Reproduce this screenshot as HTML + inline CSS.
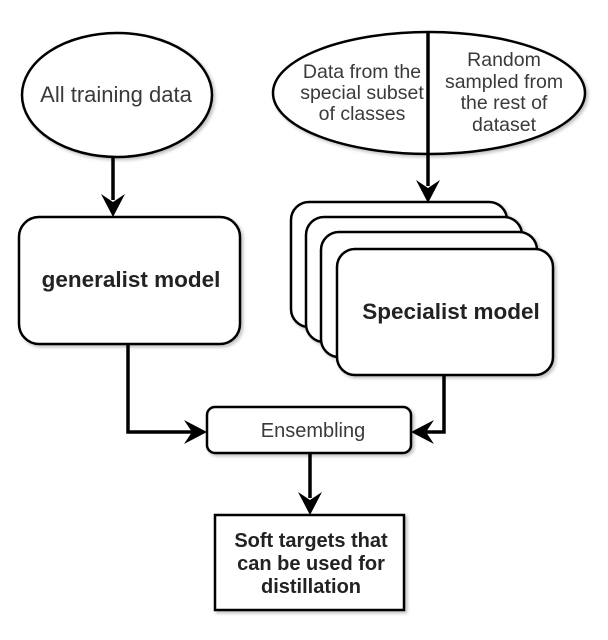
<!DOCTYPE html>
<html><head><meta charset="utf-8"><style>
html,body{margin:0;padding:0;background:#fff;}
svg{display:block;}
text{font-family:"Liberation Sans",Arial,sans-serif;fill:#3a3a3a;text-anchor:middle;}
.b{font-weight:bold;fill:#222;}
</style></head><body>
<svg width="608" height="640" viewBox="0 0 608 640" xmlns="http://www.w3.org/2000/svg">
<defs>
<filter id="sh" x="-10%" y="-10%" width="130%" height="130%"><feDropShadow dx="2" dy="2" stdDeviation="1.5" flood-color="#000" flood-opacity="0.25"/></filter>
</defs>
<g stroke="#000" stroke-width="2.5" fill="#fff" filter="url(#sh)">
<ellipse cx="117" cy="95" rx="95" ry="62"/>
<ellipse cx="429" cy="93" rx="156" ry="61"/>
<rect x="19" y="217" width="221" height="127" rx="20"/>
<rect x="291" y="202" width="216" height="125" rx="18"/>
<rect x="306" y="217" width="216" height="125" rx="18"/>
<rect x="321" y="232" width="216" height="125" rx="18"/>
<rect x="337" y="249" width="216" height="126" rx="18"/>
<rect x="207" y="407" width="204" height="46" rx="8"/>
<rect x="215" y="515" width="189" height="95"/>
</g>
<g stroke="#000" stroke-width="3.5" fill="none">
<line x1="113" y1="157" x2="113" y2="200"/>
<line x1="428" y1="32" x2="428" y2="186"/>
<polyline points="128,344 128,432 192,432"/>
<polyline points="444,375 444,432 426,432"/>
<line x1="310" y1="453" x2="310" y2="498"/>
</g>
<g fill="#000">
<polygon points="101,194 113,202 125,194 113,217"/>
<polygon points="416,180 428,188 440,180 428,203"/>
<polygon points="184,420 192,432 184,444 207,432"/>
<polygon points="434,420 426,432 434,444 411,432"/>
<polygon points="298,492 310,500 322,492 310,515"/>
</g>
<text x="116" y="102" font-size="22">All training data</text>
<text x="362" y="78" font-size="19.5">Data from the</text>
<text x="362" y="99" font-size="19.5">special subset</text>
<text x="362" y="120" font-size="19.5">of classes</text>
<text x="504" y="66" font-size="19.5">Random</text>
<text x="504" y="88" font-size="19.5">sampled from</text>
<text x="504" y="109" font-size="19.5">the rest of</text>
<text x="504" y="131" font-size="19.5">dataset</text>
<text class="b" x="131" y="287" font-size="22.5">generalist model</text>
<text class="b" x="451" y="319" font-size="22.5">Specialist model</text>
<text x="313" y="437" font-size="20">Ensembling</text>
<text class="b" x="311" y="547" font-size="20">Soft targets that</text>
<text class="b" x="311" y="570" font-size="20">can be used for</text>
<text class="b" x="311" y="593" font-size="20">distillation</text>
</svg>
</body></html>
